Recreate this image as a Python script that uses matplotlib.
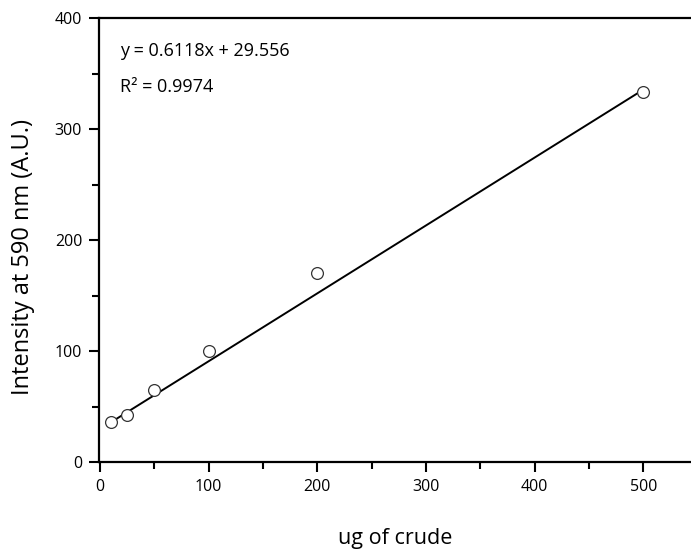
import numpy as np
import matplotlib.pyplot as plt
from matplotlib.ticker import MultipleLocator

# datos
crude_ug = [10, 25, 50, 100, 200, 500]
intensity = [36, 42, 65, 100, 170, 333]
slope = 0.6118
intercept = 29.556
r2 = 0.9974

plt.rcParams['font.family'] = ['Open Sans', 'DejaVu Sans']

fig = plt.figure(figsize=(6.91, 5.49), dpi=100)
ax = fig.add_axes([0.143, 0.1585, 0.857, 0.8085])

ax.plot(crude_ug, intensity, 'o', mfc='white', mec='#333333', ms=8.5, mew=0.9, zorder=3)
xfit = np.array([crude_ug[0], crude_ug[-1]])
ax.plot(xfit, slope * xfit + intercept, color='black', lw=1.4)

ax.set_xlim(-1, 544)
ax.set_ylim(0, 400)
ax.xaxis.set_major_locator(MultipleLocator(100))
ax.xaxis.set_minor_locator(MultipleLocator(50))
ax.yaxis.set_major_locator(MultipleLocator(100))
ax.yaxis.set_minor_locator(MultipleLocator(50))
ax.tick_params(which='major', direction='out', length=7, width=1.5, labelsize=11.5, pad=5)
ax.tick_params(which='minor', direction='out', length=5, width=1.5)

for s in ['left', 'bottom', 'top']:
    ax.spines[s].set_linewidth(1.6)
ax.spines['right'].set_visible(False)

ax.set_xlabel('ug of crude', fontsize=15.5, labelpad=24)
ax.set_ylabel('Intensity at 590 nm (A.U.)', fontsize=17)
ax.yaxis.set_label_coords(-0.107, 0.462)

ax.text(0.035, 0.925, 'y = %.4fx + %.3f' % (slope, intercept), transform=ax.transAxes,
        fontsize=13, va='center')
ax.text(0.035, 0.845, 'R² = %.4f' % r2, transform=ax.transAxes, fontsize=13, va='center')

fig.savefig('out.png', dpi=100)
